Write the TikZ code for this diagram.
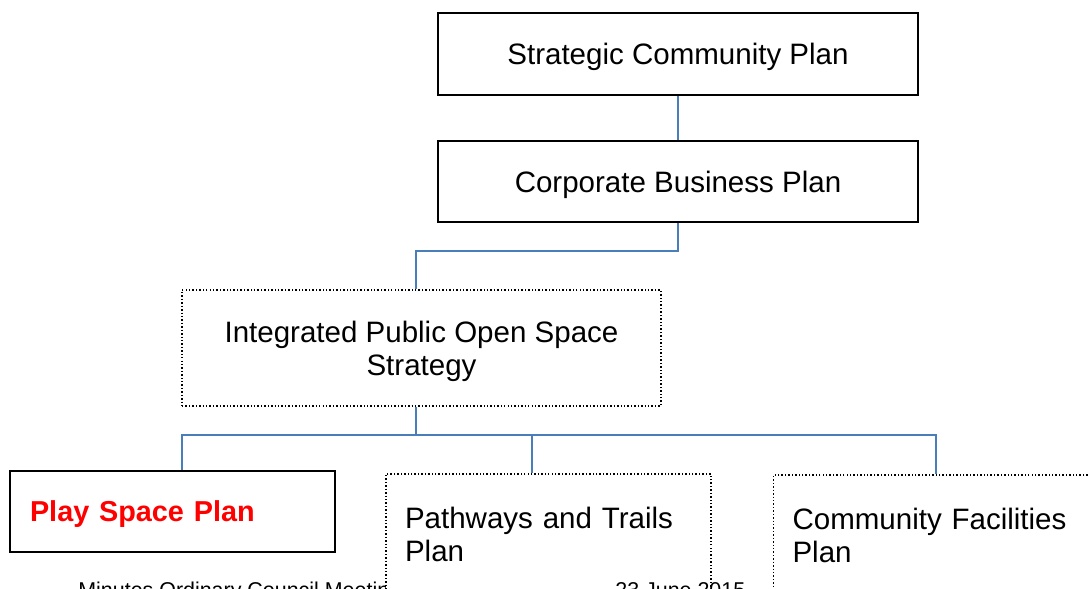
\documentclass[tikz,border=0pt]{standalone}
\usepackage{fontspec}
\setmainfont{Liberation Sans}
\usetikzlibrary{positioning}
\definecolor{linkblue}{RGB}{74,126,187}
\definecolor{playred}{RGB}{255,0,0}
\tikzset{
    plan/.style={
           rectangle,
           draw=black, line width=1pt,
           fill=white,
           minimum width=9.6cm,
           inner sep=2pt,
           text depth=0pt,
           text centered,
           },
    draftplan/.style={
           rectangle,
           draw=black, line width=0.8pt,
           dash pattern=on 0.8pt off 1.15pt,
           fill=white,
           },
    subplan/.style={
           draftplan,
           text width=5.74cm, inner xsep=0.38cm,
           minimum height=2.4cm,
           align=left,
           },
    link/.style={draw=linkblue, line width=1.1pt},
}
\newcommand{\planfont}{\fontsize{16.8}{18.8}\selectfont}
\newcommand{\footfont}{\fontsize{12.2}{14}\selectfont}
\newcommand{\PlaySpace}{\textcolor{playred}{\fontsize{16.4}{18}\selectfont\textbf{Play Space Plan}}}

\begin{document}
\begin{tikzpicture}[x=0.02cm, y=-0.02cm, font=\planfont]
  \useasboundingbox (0,0) rectangle (1090,589);
  % page footer, mostly hidden behind the lower boxes
  \node[font=\footfont, anchor=base west, inner sep=0pt] (foot) at (78,597) {Minutes Ordinary Council Meeting};

  \node[plan, minimum height=1.64cm] (scp)  at (678, 54)    {Strategic Community Plan};
  \node[plan, minimum height=1.62cm] (cbp)  at (678, 181.5) {Corporate Business Plan};
  \node[draftplan, minimum width=9.58cm, minimum height=2.32cm, text depth=0pt, align=center]
                                     (ipos) at (421.5, 348)   {Integrated Public Open Space\\Strategy};
  \node[plan, minimum width=0pt, line width=1.5pt, text width=5.7cm, inner xsep=0.4cm,
        minimum height=1.62cm, align=left]
                                     (psp)  at (172.5, 511.5) {\PlaySpace};
  \node[subplan]                     (pat)  at (548.5, 534)   {Pathways and Trails\\Plan};
  \node[subplan]                     (cfp)  at (936, 535)     {Community Facilities\\Plan};

  \draw[link] (scp) -- (cbp);
  \draw[link] (cbp.south) -- ++(0,28) -| ([xshift=-0.11cm]ipos.north);
  \draw[link] ([xshift=-0.11cm]ipos.south) -- ++(0,28) coordinate (bus);
  \draw[link] (bus) -| ([xshift=0.19cm]psp.north);
  \draw[link] (bus) -| ([xshift=-0.33cm]pat.north);
  \draw[link] (bus) -| (cfp.north);

  \node[font=\footfont, anchor=base west, inner sep=0pt] (date) at (615,597) {23 June 2015};
\end{tikzpicture}
\end{document}
